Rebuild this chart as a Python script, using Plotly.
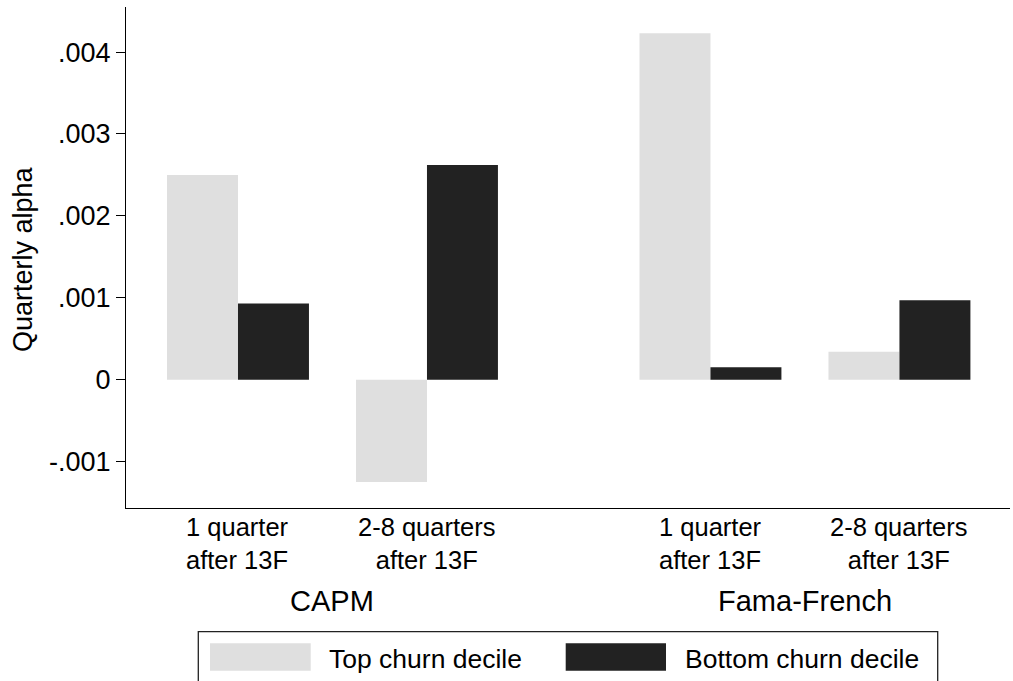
import plotly.graph_objects as go

# Quarterly alpha by model and holding horizon
models = ["CAPM", "Fama-French"]
horizons = ["1 quarter<br>after 13F", "2-8 quarters<br>after 13F"]
x_pos = [0, 1, 2.5, 3.5]          # CAPM: 0,1  | Fama-French: 2.5,3.5
model_centers = [0.5, 3.0]
horizon_labels = horizons * len(models)

top_churn = [0.00250, -0.00125, 0.00423, 0.00034]
bottom_churn = [0.00093, 0.00262, 0.00015, 0.00097]

series_names = ["Top churn decile", "Bottom churn decile"]
colors = ["#dfdfdf", "#222222"]

y_ticks = [-0.001, 0, 0.001, 0.002, 0.003, 0.004]
y_tick_text = ["-.001", "0", ".001", ".002", ".003", ".004"]

W, H = 1013, 681
L, R, T, B = 126, 3, 7, 173
PW, PH = W - L - R, H - T - B


def px(x):
    return (x - L) / PW


def py(y):
    return (H - B - y) / PH


FONT = "Liberation Sans, Arial, Helvetica, sans-serif"
BAR_W = 0.3755

fig = go.Figure()
for vals, name, col, off in zip([top_churn, bottom_churn], series_names, colors, [-BAR_W, 0]):
    fig.add_trace(go.Bar(
        x=x_pos, y=vals, name=name, width=BAR_W, offset=off,
        marker=dict(color=col, line=dict(width=0)), showlegend=False,
    ))

annotations = []
# two-line horizon labels under each bar pair
for xp, lab in zip(x_pos, horizon_labels):
    annotations.append(dict(x=xp, y=py(543), xref="x", yref="paper", text=lab,
                            showarrow=False, xanchor="center", yanchor="middle",
                            font=dict(size=25.5, color="black", family=FONT)))
# model group labels
for xc, m in zip(model_centers, models):
    annotations.append(dict(x=xc, y=py(601), xref="x", yref="paper", text=m,
                            showarrow=False, xanchor="center", yanchor="middle",
                            font=dict(size=29, color="black", family=FONT)))
# y-axis title
annotations.append(dict(x=px(23), y=py(259), xref="paper", yref="paper",
                        text="Quarterly alpha", textangle=-90, showarrow=False,
                        xanchor="center", yanchor="middle",
                        font=dict(size=27, color="black", family=FONT)))

# legend box with wide swatches
shapes = [
    dict(type="rect", xref="paper", yref="paper", x0=px(198.3), x1=px(937.7),
         y0=py(631.7), y1=py(700), line=dict(color="#222222", width=1.3),
         fillcolor="white", layer="above"),
]
legend_items = [(210, 310.7, 326.7), (565.7, 666, 683)]
for (sx0, sx1, tx), name, col in zip(legend_items, series_names, colors):
    shapes.append(dict(type="rect", xref="paper", yref="paper", x0=px(sx0), x1=px(sx1),
                       y0=py(670.7), y1=py(643.3), line=dict(width=0), fillcolor=col,
                       layer="above"))
    annotations.append(dict(x=px(tx), y=py(659), xref="paper", yref="paper", text=name,
                            showarrow=False, xanchor="left", yanchor="middle",
                            font=dict(size=26.5, color="black", family=FONT)))

fig.update_layout(
    width=W, height=H,
    margin=dict(l=L, r=R, t=T, b=B, pad=0),
    paper_bgcolor="white", plot_bgcolor="white",
    barmode="overlay",
    showlegend=False,
    font=dict(family=FONT, color="black"),
    xaxis=dict(range=[-0.5926, 4.085], showgrid=False, zeroline=False,
               showticklabels=False, ticks="", showline=True,
               linecolor="black", linewidth=1.3, fixedrange=True),
    yaxis=dict(range=[-0.001567, 0.00455], showgrid=False, zeroline=False,
               tickvals=y_ticks, ticktext=y_tick_text, ticks="outside",
               ticklen=9, tickwidth=1.3, tickcolor="black",
               showline=True, linecolor="black", linewidth=1.3,
               tickfont=dict(size=27, color="black", family=FONT),
               ticklabelstandoff=0, fixedrange=True),
    annotations=annotations,
    shapes=shapes,
)

fig.write_html("out.html", config={"displayModeBar": False})
